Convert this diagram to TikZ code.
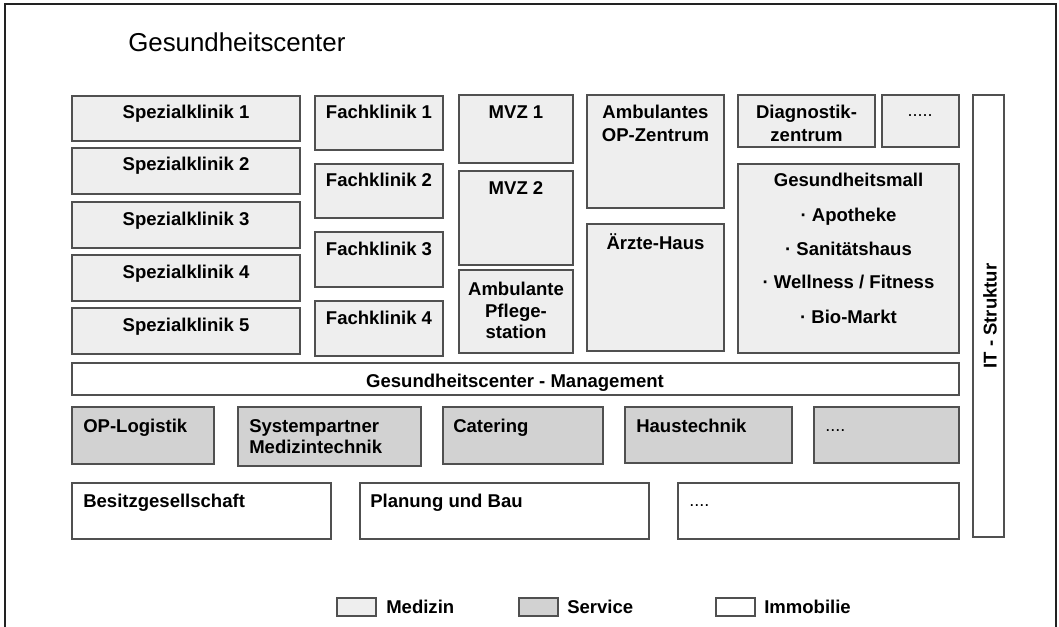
\documentclass[tikz,border=0pt]{standalone}
\usepackage{fontspec}
\setmainfont{Liberation Sans}
\definecolor{med}{HTML}{EEEEEE}
\definecolor{srv}{HTML}{D2D2D2}
\definecolor{edgec}{HTML}{505050}
\definecolor{framec}{HTML}{222222}
\tikzset{
  box/.style={draw=edgec, line width=1.3pt, outer sep=0pt, inner sep=0pt},
  medbox/.style={box, fill=med},
  srvbox/.style={box, fill=srv},
  immbox/.style={box, fill=white},
  tx/.style={font=\fontsize{13.9}{16}\selectfont\bfseries, inner sep=0pt, anchor=base},
  txl/.style={tx, anchor=base west},
  dots/.style={font=\fontsize{13.5}{16}\selectfont, inner sep=0pt, anchor=base},
  dotsl/.style={dots, anchor=base west},
}
\newcommand\bx[6]{\node[#6, minimum width={(#4-#2)*0.75pt}, minimum height={(#5-#3)*0.75pt}, anchor=north west] (#1) at (#2,#3) {};}
\begin{document}
\begin{tikzpicture}[x=0.75pt,y=-0.75pt]
\useasboundingbox (0,0) rectangle (1059,627);
\fill[white] (0,0) rectangle (1059,627);
% outer frame (open at bottom)
\draw[framec, line width=1.5pt] (5,627) -- (5,4) -- (1056,4) -- (1056,627);
% title
\node[font=\fontsize{19.4}{22}\selectfont, inner sep=0pt, anchor=base west] (title) at (128,51.5) {Gesundheitscenter};

% Spezialkliniken
\bx{sp1}{72}{96}{300}{141}{medbox}
\bx{sp2}{72}{148}{300}{194}{medbox}
\bx{sp3}{72}{202}{300}{248}{medbox}
\bx{sp4}{72}{255}{300}{301}{medbox}
\bx{sp5}{72}{308}{300}{354}{medbox}
\node[tx] (tsp1) at (186,119) {Spezialklinik 1};
\node[tx] (tsp2) at (186,171) {Spezialklinik 2};
\node[tx] (tsp3) at (186,225) {Spezialklinik 3};
\node[tx] (tsp4) at (186,278) {Spezialklinik 4};
\node[tx] (tsp5) at (186,331) {Spezialklinik 5};

% Fachkliniken
\bx{fk1}{315}{96}{443}{150}{medbox}
\bx{fk2}{315}{164}{443}{218}{medbox}
\bx{fk3}{315}{232}{443}{287}{medbox}
\bx{fk4}{315}{301}{443}{356}{medbox}
\node[tx] (tfk1) at (379,119) {Fachklinik 1};
\node[tx] (tfk2) at (379,187) {Fachklinik 2};
\node[tx] (tfk3) at (379,255) {Fachklinik 3};
\node[tx] (tfk4) at (379,324) {Fachklinik 4};

% MVZ
\bx{mvz1}{459}{95}{573}{163}{medbox}
\bx{mvz2}{459}{171}{573}{265}{medbox}
\bx{pfl}{459}{270}{573}{353}{medbox}
\node[tx] (tmvz1) at (516,119) {MVZ 1};
\node[tx] (tmvz2) at (516,195) {MVZ 2};
\node[tx] (tpfl1) at (516,295) {Ambulante};
\node[tx] (tpfl2) at (516,317) {Pflege-};
\node[tx] (tpfl3) at (516,338) {station};

% OP-Zentrum, Aerzte-Haus
\bx{aop}{587}{95}{724}{208}{medbox}
\bx{aerz}{587}{224}{724}{351}{medbox}
\node[tx] (taop1) at (655.5,119) {Ambulantes};
\node[tx] (taop2) at (655.5,142) {OP-Zentrum};
\node[tx] (taerz) at (655.5,249) {Ärzte-Haus};

% Diagnostik, dots, Mall
\bx{diag}{738}{95}{875}{147}{medbox}
\bx{dts1}{882}{95}{959}{147}{medbox}
\bx{mall}{738}{164}{959}{353}{medbox}
\node[tx] (tdiag1) at (806.5,119) {Diagnostik-};
\node[tx] (tdiag2) at (806.5,142) {zentrum};
\node[dots] (tdts1) at (920,117) {.....};
\node[tx] (tmall1) at (848.5,187) {Gesundheitsmall};
\node[tx] (tmall2) at (848.5,222) {· Apotheke};
\node[tx] (tmall3) at (848.5,255) {· Sanitätshaus};
\node[tx] (tmall4) at (848.5,288) {· Wellness / Fitness};
\node[tx] (tmall5) at (848.5,323) {· Bio-Markt};

% IT-Struktur
\bx{it}{973}{95}{1004}{537}{immbox}
\node[tx, anchor=center, rotate=90] (tit) at (990,316) {IT - Struktur};

% Management
\bx{mgmt}{72}{363}{959}{395}{immbox}
\node[tx] (tmgmt) at (515,387) {Gesundheitscenter - Management};

% Service row
\bx{oplog}{72}{407}{214}{464}{srvbox}
\bx{sysp}{238}{407}{421}{466}{srvbox}
\bx{cat}{443}{407}{603}{464}{srvbox}
\bx{haus}{625}{407}{792}{463}{srvbox}
\bx{dts2}{814}{407}{959}{463}{srvbox}
\node[txl] (toplog) at (83,432) {OP-Logistik};
\node[txl] (tsysp1) at (249,432) {Systempartner};
\node[txl] (tsysp2) at (249,453) {Medizintechnik};
\node[txl] (tcat) at (453,432) {Catering};
\node[txl] (thaus) at (636,432) {Haustechnik};
\node[dotsl] (tdts2) at (825,431) {....};

% Immobilie row
\bx{besitz}{72}{483}{331}{539}{immbox}
\bx{plan}{360}{483}{649}{539}{immbox}
\bx{dts3}{678}{483}{959}{539}{immbox}
\node[txl] (tbesitz) at (83,507) {Besitzgesellschaft};
\node[txl] (tplan) at (370,507) {Planung und Bau};
\node[dotsl] (tdts3) at (689,506) {....};

% Legend
\bx{lgm}{337}{598}{376}{616}{medbox}
\bx{lgs}{519}{598}{558}{616}{srvbox}
\bx{lgi}{716}{598}{755}{616}{immbox}
\node[txl] (tlgm) at (386,613) {Medizin};
\node[txl] (tlgs) at (567,613) {Service};
\node[txl] (tlgi) at (764,613) {Immobilie};
\end{tikzpicture}
\end{document}
